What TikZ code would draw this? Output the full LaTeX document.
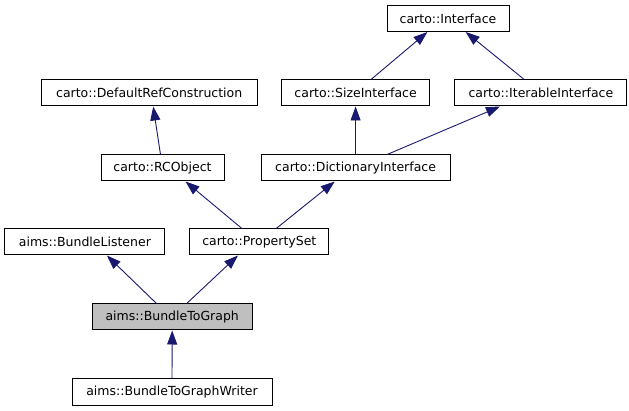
\documentclass[tikz,border=0pt]{standalone}
\usepackage{fontspec}
\setmainfont{DejaVu Sans}
\usepackage{xcolor}
\usetikzlibrary{arrows.meta}

\definecolor{edgeblue}{HTML}{191970}

\begin{document}
\begin{tikzpicture}[x=1pt,y=-1pt,
  cls/.style={draw,line width=1pt,minimum height=26pt,inner sep=0pt,font=\fontsize{12.5}{14}\selectfont},
  inh/.style={draw=edgeblue,line width=0.9pt,-{Triangle[length=14pt,width=10pt,fill=edgeblue]}}]
\useasboundingbox (0,0) rectangle (629,411);

\node [cls,minimum width=122pt] (iface) at (448,18.5) {carto::Interface};
\node [cls,minimum width=216pt] (drc) at (149.2,93) {carto::DefaultRefConstruction};
\node [cls,minimum width=148pt] (size) at (355.6,93) {carto::SizeInterface};
\node [cls,minimum width=172pt] (iter) at (540.9,93) {carto::IterableInterface};
\node [cls,minimum width=123pt] (rco) at (162.5,168) {carto::RCObject};
\node [cls,minimum width=189pt] (dict) at (355.6,168) {carto::DictionaryInterface};
\node [cls,minimum width=160pt] (blist) at (84.9,242) {aims::BundleListener};
\node [cls,minimum width=139pt] (pset) at (259.3,242) {carto::PropertySet};
\node [cls,minimum width=160pt,fill=black!25] (btg) at (172.2,317) {aims::BundleToGraph};
\node [cls,minimum width=200pt] (btgw) at (172,392) {aims::BundleToGraphWriter};

% inheritance edges, child -> parent
\draw [inh] ([xshift=15.4pt]size.north) -- ([xshift=-20.6pt]iface.south);
\draw [inh] ([xshift=-16.7pt]iter.north) -- ([xshift=17.7pt]iface.south);
\draw [inh] ([xshift=-2pt]rco.north) -- ([xshift=4pt]drc.south);
\draw [inh] (dict.north) -- (size.south);
\draw [inh] ([xshift=31.5pt]dict.north) -- ([xshift=-40.9pt]iter.south);
\draw [inh] ([xshift=-17.4pt]pset.north) -- ([xshift=23pt]rco.south);
\draw [inh] ([xshift=16.9pt]pset.north) -- ([xshift=-20.9pt]dict.south);
\draw [inh] ([xshift=-15.7pt]btg.north) -- ([xshift=22pt]blist.south);
\draw [inh] ([xshift=14.5pt]btg.north) -- ([xshift=-21.4pt]pset.south);
\draw [inh] (btgw.north) -- (btg.south);
\end{tikzpicture}
\end{document}
